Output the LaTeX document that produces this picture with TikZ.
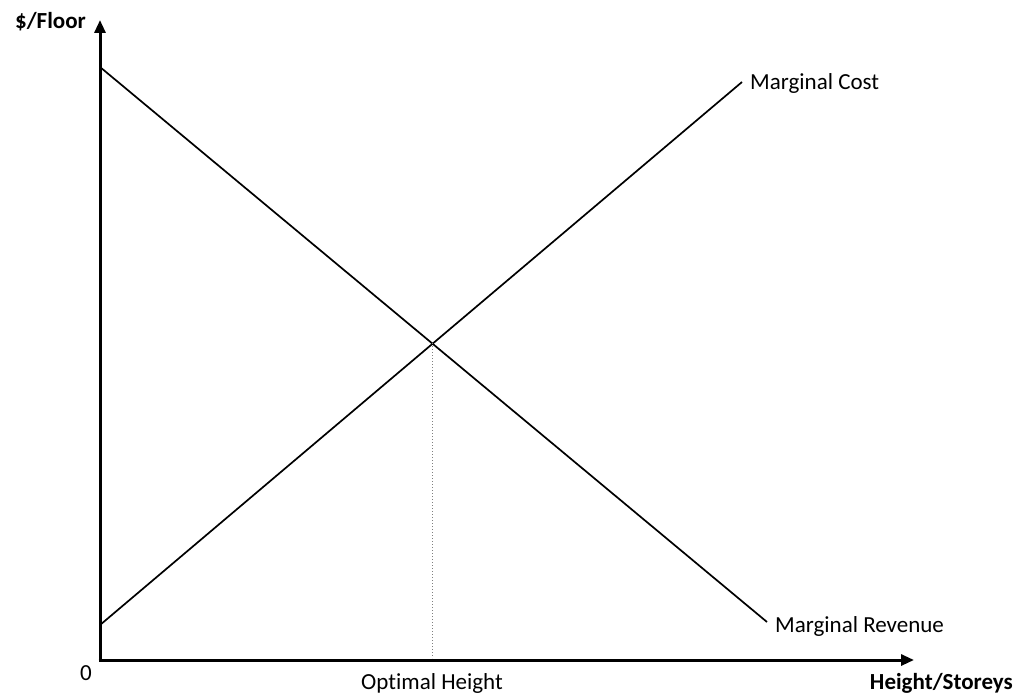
\documentclass[tikz,border=0pt]{standalone}
\usepackage{fontspec}
\setmainfont{Carlito}[Ligatures=NoCommon]
\usetikzlibrary{arrows.meta}

\tikzset{
    axis/.style={line width=3pt, -{Triangle[length=13pt, width=11pt]}},
    curve/.style={line width=1.7pt},
    lbl/.style={font=\fontsize{23}{26}\selectfont, inner sep=0pt},
    axlbl/.style={font=\fontsize{23}{26}\selectfont\bfseries, inner sep=0pt}
}

\begin{document}
\begin{tikzpicture}[x=1pt, y=-1pt]
    \useasboundingbox (0, 0) rectangle (1025, 693);

    % axes
    \coordinate (origin) at (100, 660);
    \coordinate (ytop) at (100, 20);
    \coordinate (xend) at (914, 660);
    \draw[axis] (origin) -- (ytop);
    \draw[axis] ([xshift=-1.5pt]origin) -- (xend);

    \node[axlbl, anchor=east] (ylabel) at (86, 22) {\$/Floor};
    \node[axlbl, anchor=east] (xlabel) at (1013, 683) {Height/Storeys};
    \node[lbl] (zero) at (86, 673) {0};

    % curves
    \coordinate (mrstart) at (100, 67);
    \coordinate (mrend) at (767, 622);
    \coordinate (mcstart) at (100, 625);
    \coordinate (mcend) at (742, 82);
    \draw[curve] (mrstart) -- (mrend);
    \draw[curve] (mcstart) -- (mcend);

    \node[lbl, anchor=west] (mc) at (750, 83) {Marginal Cost};
    \node[lbl, anchor=west] (mr) at (775, 626) {Marginal Revenue};

    % optimum
    \coordinate (opt) at (432, 343);
    \coordinate (optbase) at (432, 658);
    \draw[gray, line width=1pt, dotted] (opt) -- (optbase);
    \node[lbl] (optlabel) at (432, 683) {Optimal Height};
\end{tikzpicture}
\end{document}
